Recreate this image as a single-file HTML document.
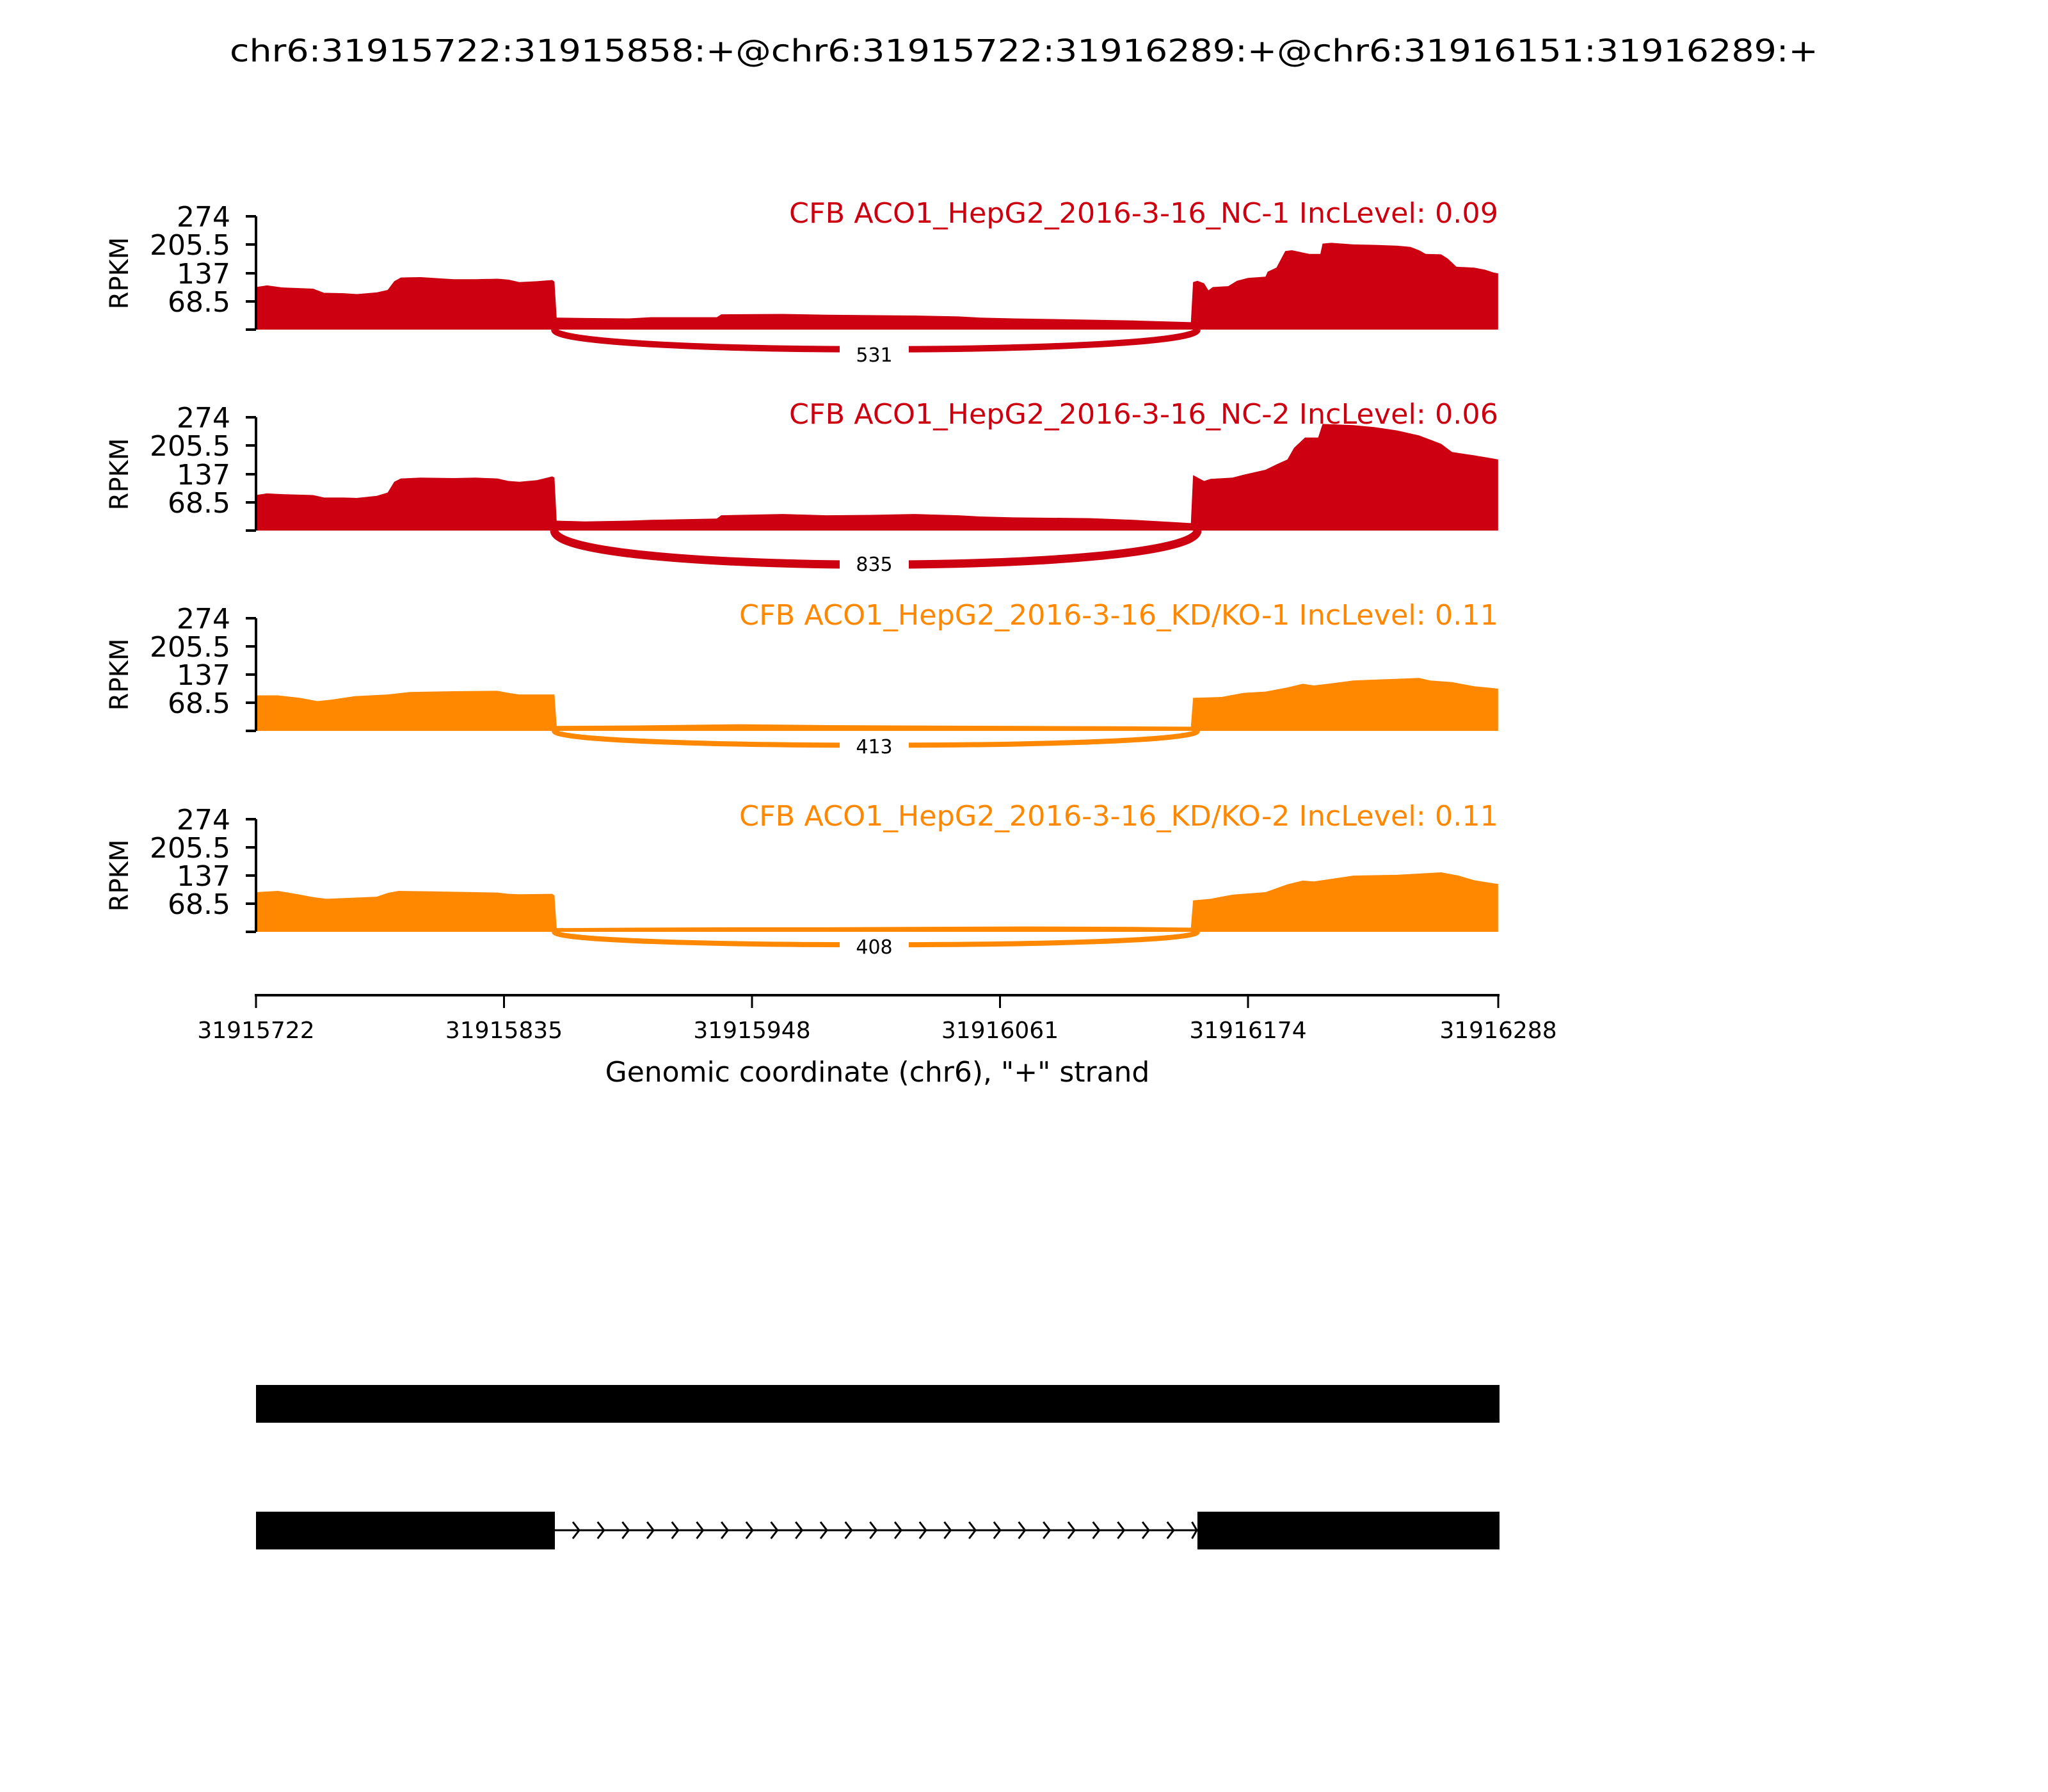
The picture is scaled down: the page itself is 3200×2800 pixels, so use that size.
<!DOCTYPE html>
<html><head><meta charset="utf-8"><style>body{margin:0;background:#fff}svg{display:block}</style></head><body>
<svg width="3200" height="2800" xmlns="http://www.w3.org/2000/svg" font-family="'DejaVu Sans','Liberation Sans',sans-serif">
<rect width="3200" height="2800" fill="#fff"/>
<text x="1600" y="96" font-size="48" text-anchor="middle" textLength="2482" lengthAdjust="spacingAndGlyphs">chr6:31915722:31915858:+@chr6:31915722:31916289:+@chr6:31916151:31916289:+</text>

<!-- Panel 1 -->
<g transform="translate(400,515) scale(3.429,-0.646)" fill="#CC0011">
<polygon points="0,0 0,103 5,107 12,102 26,99 31,89 40,88 46,86 55,90 60,96 63,117 66,126 75,127 90,122 100,122 110,123 115,121 120,115 128,117 135,120 136,116 137,29 150,28 170,27 180,30 210,30 212,37 240,38 260,36 280,35 300,34 320,32 330,29 345,27 380,24 400,22 420,19 426,18 427,115 429,118 432,112 434,95 436,103 443,105 447,118 452,125 460,128 461,140 465,150 469,190 472,192 480,183 485,183 486,208 490,210 500,206 510,205 520,203 526,200 530,192 533,183 540,182 543,172 547,152 555,150 560,145 564,138 566,136 566,0"/>
</g>
<!-- Panel 2 -->
<g transform="translate(400,829) scale(3.429,-0.646)" fill="#CC0011">
<polygon points="0,0 0,86 5,90 12,88 26,86 31,80 40,80 46,79 55,84 60,92 63,118 66,126 75,128 90,127 100,128 110,126 115,120 120,118 128,122 135,131 136,128 137,24 150,22 170,24 180,26 210,29 212,37 240,40 260,37 280,38 300,40 320,37 330,34 345,32 380,30 400,26 420,20 426,18 427,134 432,120 435,125 445,128 450,135 460,147 465,160 470,172 473,200 478,225 484,225 486,258 500,255 510,250 520,242 530,230 535,220 540,210 545,190 555,182 563,175 566,172 566,0"/>
</g>
<!-- Panel 3 -->
<g transform="translate(400,1142) scale(3.429,-0.646)" fill="#FF8800">
<polygon points="0,0 0,86 10,86 20,80 28,72 35,76 45,84 60,88 70,94 90,96 110,97 115,92 120,88 136,88 137,12 170,13 220,16 260,14 300,13 350,12 400,11 426,10 427,80 440,82 450,92 460,95 470,105 477,114 482,110 490,115 500,122 510,124 520,126 530,128 535,122 545,118 555,108 563,104 566,102 566,0"/>
</g>
<!-- Panel 4 -->
<g transform="translate(400,1456) scale(3.429,-0.646)" fill="#FF8800">
<polygon points="0,0 0,96 10,99 18,92 26,84 32,80 42,82 55,85 60,94 65,99 80,98 100,96 110,95 115,92 120,91 135,92 136,88 137,9 170,10 220,11 260,11 300,12 350,13 400,12 426,10 427,76 435,80 445,90 460,96 470,115 477,124 482,122 490,128 500,136 520,138 540,144 548,136 555,125 563,118 566,116 566,0"/>
</g>

<!-- Junction arcs -->
<g fill="none" stroke-linecap="butt">
<path d="M866,515 C868,556 1869,556 1871,515" stroke="#CC0011" stroke-width="10"/>
<path d="M866,829 C868,900 1869,900 1871,829" stroke="#CC0011" stroke-width="13"/>
<path d="M866,1142 C868,1172 1869,1172 1871,1142" stroke="#FF8800" stroke-width="8"/>
<path d="M866,1456 C868,1483 1869,1483 1871,1456" stroke="#FF8800" stroke-width="8"/>
</g>
<g font-size="30" text-anchor="middle">
<rect x="1312" y="527" width="108" height="38" fill="#fff"/><text x="1366" y="565">531</text>
<rect x="1312" y="861" width="108" height="38" fill="#fff"/><text x="1366" y="892">835</text>
<rect x="1312" y="1144" width="108" height="38" fill="#fff"/><text x="1366" y="1177">413</text>
<rect x="1312" y="1457" width="108" height="38" fill="#fff"/><text x="1366" y="1490">408</text>
</g>

<!-- Y axes -->
<g stroke="#000" stroke-width="4" fill="none">
<path d="M400,338V515 M384,338H400 M384,382H400 M384,427H400 M384,471H400 M384,515H400"/>
<path d="M400,652V829 M384,652H400 M384,696H400 M384,741H400 M384,785H400 M384,829H400"/>
<path d="M400,966V1142 M384,966H400 M384,1010H400 M384,1054H400 M384,1098H400 M384,1142H400"/>
<path d="M400,1280V1456 M384,1280H400 M384,1324H400 M384,1368H400 M384,1412H400 M384,1456H400"/>
</g>
<g font-size="44" text-anchor="end">
<text x="360" y="354">274</text><text x="360" y="398">205.5</text><text x="360" y="443">137</text><text x="360" y="487">68.5</text>
<text x="360" y="668">274</text><text x="360" y="712">205.5</text><text x="360" y="757">137</text><text x="360" y="801">68.5</text>
<text x="360" y="982">274</text><text x="360" y="1026">205.5</text><text x="360" y="1070">137</text><text x="360" y="1114">68.5</text>
<text x="360" y="1296">274</text><text x="360" y="1340">205.5</text><text x="360" y="1384">137</text><text x="360" y="1428">68.5</text>
</g>
<g font-size="40" text-anchor="middle">
<text transform="translate(200,427) rotate(-90)">RPKM</text>
<text transform="translate(200,741) rotate(-90)">RPKM</text>
<text transform="translate(200,1054) rotate(-90)">RPKM</text>
<text transform="translate(200,1368) rotate(-90)">RPKM</text>
</g>
<g font-size="44" text-anchor="end">
<text x="2341" y="348" fill="#CC0011" textLength="1108" lengthAdjust="spacingAndGlyphs">CFB ACO1_HepG2_2016-3-16_NC-1 IncLevel: 0.09</text>
<text x="2341" y="662" fill="#CC0011" textLength="1108" lengthAdjust="spacingAndGlyphs">CFB ACO1_HepG2_2016-3-16_NC-2 IncLevel: 0.06</text>
<text x="2341" y="976" fill="#FF8800" textLength="1186" lengthAdjust="spacingAndGlyphs">CFB ACO1_HepG2_2016-3-16_KD/KO-1 IncLevel: 0.11</text>
<text x="2341" y="1290" fill="#FF8800" textLength="1186" lengthAdjust="spacingAndGlyphs">CFB ACO1_HepG2_2016-3-16_KD/KO-2 IncLevel: 0.11</text>
</g>

<!-- X axis -->
<g stroke="#000" fill="none">
<path d="M398,1555H2343" stroke-width="4"/>
<path d="M400,1555V1575 M787.5,1555V1575 M1175,1555V1575 M1562.5,1555V1575 M1950,1555V1575 M2341,1555V1575" stroke-width="3"/>
</g>
<g font-size="36" text-anchor="middle">
<text x="400" y="1622">31915722</text><text x="787.5" y="1622">31915835</text><text x="1175" y="1622">31915948</text>
<text x="1562.5" y="1622">31916061</text><text x="1950" y="1622">31916174</text><text x="2341" y="1622">31916288</text>
</g>
<text x="1371" y="1690" font-size="44" text-anchor="middle">Genomic coordinate (chr6), "+" strand</text>

<!-- Gene models -->
<rect x="400" y="2164" width="1943" height="59" fill="#000"/>
<rect x="400" y="2362" width="467" height="59" fill="#000"/>
<rect x="1871" y="2362" width="472" height="59" fill="#000"/>
<line x1="865" y1="2391" x2="1871" y2="2391" stroke="#000" stroke-width="3"/>
<path fill="none" stroke="#000" stroke-width="3" d="M895,2378L905,2391L895,2404 M933.7,2378L943.7,2391L933.7,2404 M972.4,2378L982.4,2391L972.4,2404 M1011.1,2378L1021.1,2391L1011.1,2404 M1049.8,2378L1059.8,2391L1049.8,2404 M1088.5,2378L1098.5,2391L1088.5,2404 M1127.2,2378L1137.2,2391L1127.2,2404 M1165.9,2378L1175.9,2391L1165.9,2404 M1204.6,2378L1214.6,2391L1204.6,2404 M1243.3,2378L1253.3,2391L1243.3,2404 M1282,2378L1292,2391L1282,2404 M1320.7,2378L1330.7,2391L1320.7,2404 M1359.4,2378L1369.4,2391L1359.4,2404 M1398.1,2378L1408.1,2391L1398.1,2404 M1436.8,2378L1446.8,2391L1436.8,2404 M1475.5,2378L1485.5,2391L1475.5,2404 M1514.2,2378L1524.2,2391L1514.2,2404 M1552.9,2378L1562.9,2391L1552.9,2404 M1591.6,2378L1601.6,2391L1591.6,2404 M1630.3,2378L1640.3,2391L1630.3,2404 M1669,2378L1679,2391L1669,2404 M1707.7,2378L1717.7,2391L1707.7,2404 M1746.4,2378L1756.4,2391L1746.4,2404 M1785.1,2378L1795.1,2391L1785.1,2404 M1823.8,2378L1833.8,2391L1823.8,2404 M1862.5,2378L1870,2391L1862.5,2404"/>
</svg>
</body></html>
